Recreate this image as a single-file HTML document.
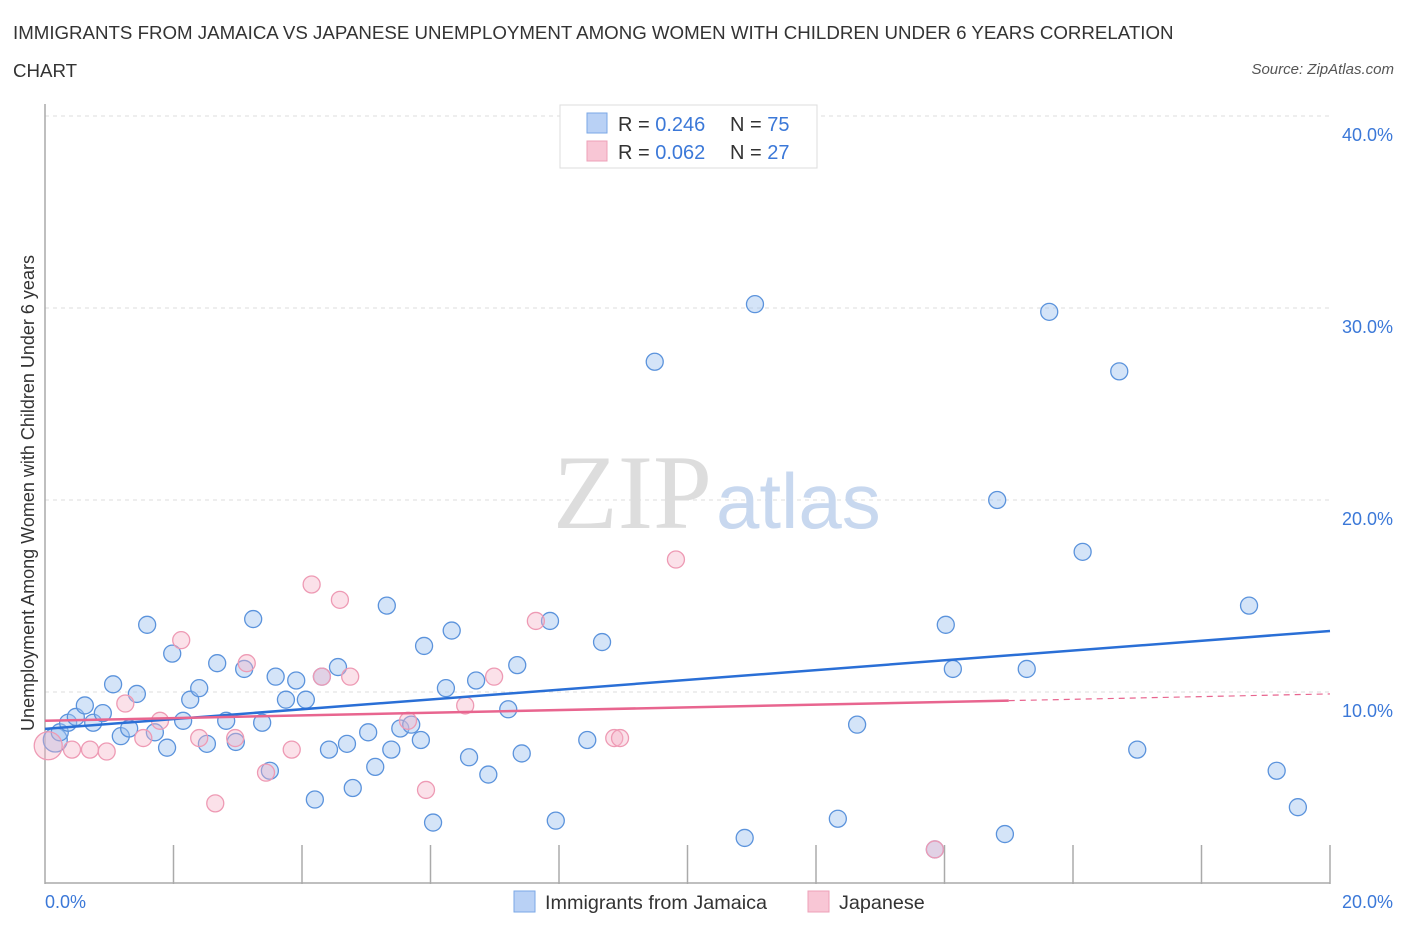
<!DOCTYPE html>
<html><head><meta charset="utf-8">
<style>
body{margin:0;background:#fff;font-family:"Liberation Sans",sans-serif;}
#wrap{position:relative;width:1406px;height:930px;overflow:hidden;}
.t{position:absolute;white-space:nowrap;}
</style></head>
<body>
<div id="wrap">
<div class="t" style="left:13px;top:14px;font-size:18.7px;color:#333;line-height:38px;">IMMIGRANTS FROM JAMAICA VS JAPANESE UNEMPLOYMENT AMONG WOMEN WITH CHILDREN UNDER 6 YEARS CORRELATION<br>CHART</div>
<div class="t" style="right:12px;top:61px;font-size:15px;color:#555;font-style:italic;">Source: ZipAtlas.com</div>
<svg id="svg" width="1406" height="930" style="position:absolute;left:0;top:0"></svg>
</div>
<script>
const yTicks=[10,20,30,40];
const xTickLabels=["0.0%","20.0%"];
const blueX=[0.16,0.23,0.36,0.48,0.75,0.62,0.90,1.06,1.18,1.31,1.43,1.59,1.71,1.90,1.98,2.15,2.26,2.40,2.52,2.68,2.82,2.97,3.10,3.24,3.38,3.50,3.59,3.75,3.91,4.06,4.20,4.31,4.42,4.56,4.70,4.79,5.03,5.14,5.32,5.39,5.53,5.70,5.85,5.90,6.04,6.24,6.33,6.60,6.71,6.90,7.21,7.35,7.42,7.86,7.95,8.44,8.67,9.49,10.89,11.05,12.34,12.64,13.85,14.02,14.13,14.82,14.94,15.28,15.63,16.15,16.72,17.00,18.74,19.17,19.50];
const blueY=[7.5,7.9,8.4,8.7,8.4,9.3,8.9,10.4,7.7,8.1,9.9,13.5,7.9,7.1,12.0,8.5,9.6,10.2,7.3,11.5,8.5,7.4,11.2,13.8,8.4,5.9,10.8,9.6,10.6,9.6,4.4,10.8,7.0,11.3,7.3,5.0,7.9,6.1,14.5,7.0,8.1,8.3,7.5,12.4,3.2,10.2,13.2,6.6,10.6,5.7,9.1,11.4,6.8,13.7,3.3,7.5,12.6,27.2,2.4,30.2,3.4,8.3,1.8,13.5,11.2,20.0,2.6,11.2,29.8,17.3,26.7,7.0,14.5,5.9,4.0];
const pinkX=[0.05,0.42,0.70,0.96,1.25,1.53,1.79,2.12,2.40,2.65,2.96,3.14,3.44,3.84,4.15,4.31,4.59,4.75,5.65,5.93,6.54,6.99,7.64,8.86,8.95,9.82,13.85];
const pinkY=[7.2,7.0,7.0,6.9,9.4,7.6,8.5,12.7,7.6,4.2,7.6,11.5,5.8,7.0,15.6,10.8,14.8,10.8,8.5,4.9,9.3,10.8,13.7,7.6,7.6,16.9,1.8];
const blueTrend=[8.08,13.18];
const pinkTrend=[8.5,9.9];
const pinkSolidEnd=15.0;

const X0=45,X1=1330,Y0=884,PY=19.2;
const sx=v=>X0+(v/20)*(X1-X0);
const sy=v=>Y0-v*PY;
const svg=document.getElementById('svg');
const NS='http://www.w3.org/2000/svg';
function mk(tag,attrs,parent){const e=document.createElementNS(NS,tag);for(const k in attrs)e.setAttribute(k,attrs[k]);(parent||svg).appendChild(e);return e;}

yTicks.forEach(v=>{
  const g=mk('line',{x1:X0,x2:X1,y1:sy(v),y2:sy(v),stroke:'#ddd','stroke-dasharray':'4,4','stroke-width':1});
  
  
  const t=mk('text',{x:1393,y:sy(v)+25,'text-anchor':'end','font-size':18,fill:'#3b78d8','font-family':'Liberation Sans, sans-serif'});
  t.textContent=v.toFixed(1)+'%';
  
  
});
const ax=mk('line',{x1:X0,x2:X0,y1:104,y2:Y0,stroke:'#aaa','stroke-width':1.5});


const bx=mk('line',{x1:X0,x2:X1,y1:Y0-1,y2:Y0-1,stroke:'#aaa','stroke-width':1.5});


for(let i=1;i<=10;i++){
  const tk=mk('line',{x1:sx(i*2),x2:sx(i*2),y1:845,y2:Y0,stroke:'#aaa','stroke-width':1.5});
  
  
}
const wm=mk('text',{x:553,y:528,'font-size':106,fill:'#ddd','font-family':'Liberation Serif, serif'});
wm.textContent='ZIP';


const wm2=mk('text',{x:716,y:528,'font-size':78,fill:'#c8d8ef','font-family':'Liberation Sans, sans-serif'});
wm2.textContent='atlas';



blueX.forEach((x,i)=>{
  const c=mk('circle',{cx:sx(x),cy:sy(blueY[i]),r:i===0?12:8.5,fill:'rgba(160,195,240,0.45)',stroke:'#5b93dc','stroke-width':1.3});
  
  
});
pinkX.forEach((x,i)=>{
  const c=mk('circle',{cx:sx(x),cy:sy(pinkY[i]),r:i===0?14:8.5,fill:'rgba(245,180,200,0.4)',stroke:'#ee9ab4','stroke-width':1.3});
  
  
});
const bl=mk('line',{x1:sx(0),y1:sy(blueTrend[0]),x2:sx(20),y2:sy(blueTrend[1]),stroke:'#2a6fd6','stroke-width':2.5});


const pAt=x=>pinkTrend[0]+(pinkTrend[1]-pinkTrend[0])*x/20;
const pl=mk('line',{x1:sx(0),y1:sy(pAt(0)),x2:sx(pinkSolidEnd),y2:sy(pAt(pinkSolidEnd)),stroke:'#e8658f','stroke-width':2.5});


const pd=mk('line',{x1:sx(pinkSolidEnd),y1:sy(pAt(pinkSolidEnd)),x2:sx(20),y2:sy(pAt(20)),stroke:'#e8658f','stroke-width':1.2,'stroke-dasharray':'6,5'});



const xl0=mk('text',{x:45,y:908,'font-size':18,fill:'#3b78d8','font-family':'Liberation Sans, sans-serif'});
xl0.textContent=xTickLabels[0];


const xl1=mk('text',{x:1393,y:908,'text-anchor':'end','font-size':18,fill:'#3b78d8','font-family':'Liberation Sans, sans-serif'});
xl1.textContent=xTickLabels[1];


const yt=mk('text',{transform:'translate(34,493) rotate(-90)','text-anchor':'middle','font-size':18,fill:'#333','font-family':'Liberation Sans, sans-serif'});
yt.textContent='Unemployment Among Women with Children Under 6 years';



const lg=mk('rect',{x:560,y:105,width:257,height:63,fill:'#fff',stroke:'#ddd'});


[[0.246,75,'#b9d1f5','#7aa7e6',123],[0.062,27,'#f8c6d5','#eea0b8',151]].forEach((r,i)=>{
  const sw=mk('rect',{x:587,y:r[4]-10,width:20,height:20,fill:r[2],stroke:r[3]});
  
  
  const t=mk('text',{x:618,y:r[4]+8,'font-size':20,fill:'#333','font-family':'Liberation Sans, sans-serif'});
  t.innerHTML='R = <tspan fill="#3b78d8">'+r[0].toFixed(3)+'</tspan><tspan x="730">N = </tspan><tspan fill="#3b78d8">'+r[1]+'</tspan>';
  
  
});
[['Immigrants from Jamaica',514,'#b9d1f5','#7aa7e6'],['Japanese',808,'#f8c6d5','#eea0b8']].forEach(l=>{
  const sw=mk('rect',{x:l[1],y:891,width:21,height:21,fill:l[2],stroke:l[3]});
  
  
  const t=mk('text',{x:l[1]+31,y:909,'font-size':19.8,fill:'#333','font-family':'Liberation Sans, sans-serif'});
  t.textContent=l[0];
  
  
});
</script>
</body></html>
